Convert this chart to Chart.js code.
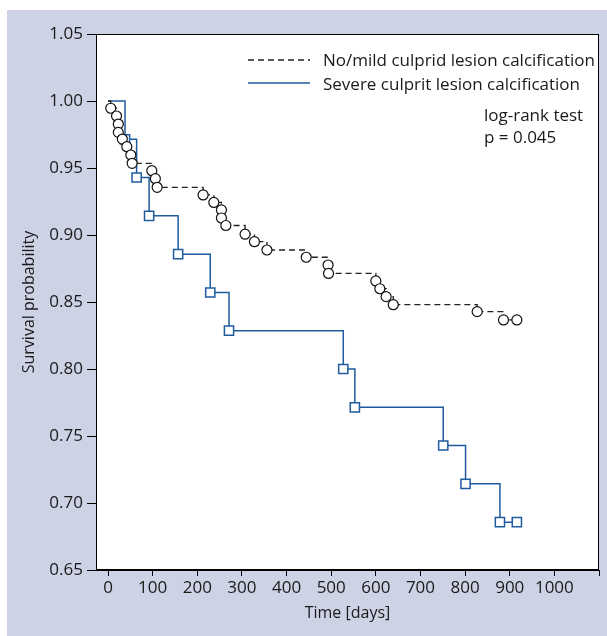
<!DOCTYPE html>
<html><head><meta charset="utf-8">
<script src="https://cdn.jsdelivr.net/npm/chart.js@4.4.1/dist/chart.umd.min.js"></script>
<style>html,body{margin:0;padding:0;background:#fff;overflow:hidden;}</style>
</head><body>
<canvas id="c" width="607" height="636" style="display:block;width:607px;height:636px"></canvas>
<script>
// ---- data ----
const noMildDays = [0, 6, 19, 23, 23, 32, 42, 51, 54, 98, 106, 110, 213, 237, 254, 254, 264, 307, 328, 356, 444, 493, 494, 600, 609, 623, 639, 827, 886, 916];
const noMildSurv = [1.0, 0.9946, 0.9888, 0.9828, 0.9766, 0.9716, 0.9659, 0.9597, 0.9535, 0.948, 0.942, 0.9356, 0.9299, 0.9243, 0.9187, 0.9127, 0.9071, 0.9006, 0.895, 0.8888, 0.8834, 0.8776, 0.8713, 0.8657, 0.8599, 0.854, 0.848, 0.8428, 0.8366, 0.8366];
const severeDays = [0, 38, 64, 92, 157, 229, 271, 527, 553, 751, 801, 878, 916];
const severeSurv = [1.0, 0.9714, 0.9429, 0.9143, 0.8857, 0.8571, 0.8286, 0.8, 0.7714, 0.7429, 0.7143, 0.6857, 0.6857];
const seriesLabels = ['No/mild culprid lesion calcification', 'Severe culprit lesion calcification'];
const xTicks = [0, 100, 200, 300, 400, 500, 600, 700, 800, 900, 1000, 1100];
const yTicks = [0.65, 0.70, 0.75, 0.80, 0.85, 0.90, 0.95, 1.00, 1.05];
const annotationLines = ['log-rank test', 'p = 0.045'];

const FONT = "'Open Sans', 'Noto Sans', sans-serif";
const TXT = '#1a1a1a';
const BLUE = '#1f5b9f';
const LAV = '#cdd2e5';

const toXY = (xs, ys) => xs.map((x, i) => ({x: x, y: ys[i]}));

const decor = {
  id: 'decor',
  beforeDraw(chart) {
    const {ctx, chartArea: a} = chart;
    ctx.save();
    ctx.fillStyle = '#fff';
    ctx.fillRect(0, 0, chart.width, chart.height);
    ctx.fillStyle = LAV;
    ctx.fillRect(7, 10, chart.width - 7, chart.height - 10);
    ctx.fillStyle = '#fff';
    ctx.fillRect(a.left, a.top, a.right - a.left, a.bottom - a.top);
    ctx.restore();
  },
  afterDraw(chart) {
    const {ctx, chartArea: a} = chart;
    ctx.save();
    ctx.strokeStyle = '#000';
    ctx.lineWidth = 1;
    ctx.strokeRect(Math.round(a.left) + 0.5, Math.round(a.top) + 0.5, Math.round(a.right - a.left) - 1, Math.round(a.bottom - a.top) - 1);
    // legend
    const ds = chart.data.datasets;
    const rows = [{ly: 60, ty: 61}, {ly: 83, ty: 85}];
    ctx.font = '17px ' + FONT;
    ctx.textBaseline = 'middle';
    ctx.textAlign = 'left';
    ds.forEach((d, i) => {
      ctx.beginPath();
      ctx.strokeStyle = d.borderColor;
      ctx.lineWidth = d.borderWidth;
      ctx.setLineDash(d.borderDash || []);
      ctx.moveTo(248, rows[i].ly);
      ctx.lineTo(310, rows[i].ly);
      ctx.stroke();
      ctx.setLineDash([]);
      ctx.fillStyle = TXT;
      ctx.fillText(d.label, 323, rows[i].ty);
    });
    annotationLines.forEach((t, i) => {
      ctx.fillText(t, 484, 116 + i * 22);
    });
    ctx.restore();
  }
};

new Chart(document.getElementById('c'), {
  type: 'line',
  data: {
    datasets: [
      {
        label: seriesLabels[0],
        data: toXY(noMildDays, noMildSurv),
        stepped: 'before',
        borderColor: '#222',
        borderWidth: 1.3,
        borderDash: [6, 4],
        fill: false,
        pointStyle: 'circle',
        pointRadius: c => c.dataIndex === 0 ? 0 : 5,
        pointBackgroundColor: '#fff',
        pointBorderColor: '#111',
        pointBorderWidth: 1.2
      },
      {
        label: seriesLabels[1],
        data: toXY(severeDays, severeSurv),
        stepped: 'before',
        borderColor: BLUE,
        borderWidth: 1.5,
        fill: false,
        pointStyle: 'rect',
        pointRadius: c => c.dataIndex === 0 ? 0 : 6.5,
        pointBackgroundColor: '#fff',
        pointBorderColor: BLUE,
        pointBorderWidth: 1.5
      }
    ]
  },
  options: {
    responsive: false,
    animation: false,
    devicePixelRatio: 1,
    layout: {padding: {top: 34, right: 6, bottom: 0, left: 0}},
    plugins: {legend: {display: false}, tooltip: {enabled: false}},
    scales: {
      x: {
        type: 'linear', min: -27, max: 1100,
        afterBuildTicks: s => { s.ticks = xTicks.map(v => ({value: v})); },
        afterFit: s => { s.height = 66; },
        ticks: {callback: v => v <= 1000 ? String(v) : '', font: {family: FONT, size: 17}, color: TXT, padding: 2, maxRotation: 0, autoSkip: false},
        grid: {drawOnChartArea: false, drawTicks: true, tickLength: 6, color: '#000', lineWidth: 1},
        border: {display: true, color: '#000', width: 1},
        title: {display: true, text: 'Time [days]', font: {family: FONT, size: 16}, color: TXT, padding: {top: 0, bottom: 13}}
      },
      y: {
        type: 'linear', min: 0.65, max: 1.05,
        afterBuildTicks: s => { s.ticks = yTicks.map(v => ({value: v})); },
        afterFit: s => { s.width = 96; },
        ticks: {callback: v => Number(v).toFixed(2), font: {family: FONT, size: 17}, color: TXT, padding: 4, autoSkip: false},
        grid: {drawOnChartArea: false, drawTicks: true, tickLength: 9, color: '#000', lineWidth: 1},
        border: {display: true, color: '#000', width: 1},
        title: {display: true, text: 'Survival probability', font: {family: FONT, size: 16}, color: TXT, padding: {top: 20, bottom: 0}}
      }
    }
  },
  plugins: [decor]
});
</script>
</body></html>
